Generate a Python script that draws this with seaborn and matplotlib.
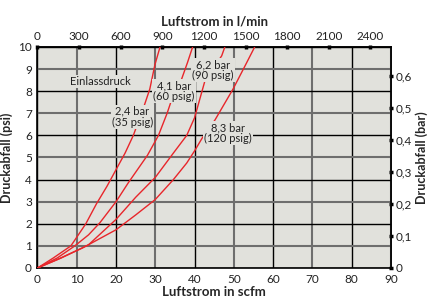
import numpy as np
import pandas as pd
import matplotlib
matplotlib.use("Agg")
import matplotlib.pyplot as plt
import seaborn as sns

# Luftstrom (scfm) / Druckabfall (psi) je Einlassdruck
x_24 = [0, 4, 8.5, 12.3, 15, 17.7, 20, 22.3, 24.4, 26.9, 28.6, 29.9, 31.2]
y_24 = [0, 0.45, 1.0, 2.0, 2.9, 3.7, 4.45, 5.2, 6.0, 7.2, 8.1, 9.2, 10]

x_41 = [0, 5, 9.5, 13, 15.9, 20, 23.1, 28, 30.8, 33, 34.7, 36.6, 38.2, 39.5]
y_41 = [0, 0.45, 1.0, 1.5, 2.05, 3.0, 3.85, 5.1, 6.0, 7.0, 7.9, 8.5, 9.3, 10]

x_62 = [0, 6, 13, 20, 25, 30, 34.6, 38, 40, 42.6, 44.8, 46.9, 47.7]
y_62 = [0, 0.45, 1.05, 2.2, 3.2, 4.1, 5.2, 6.0, 6.8, 8.45, 9.05, 9.6, 10]

x_83 = [0, 5, 11.4, 20, 25, 30, 34.6, 38, 40, 42, 45.2, 49.8, 53, 55.3]
y_83 = [0, 0.38, 0.9, 1.73, 2.4, 3.1, 4.0, 4.75, 5.3, 5.9, 6.7, 8.1, 9.2, 10]

series = {"2,4 bar": (x_24, y_24), "4,1 bar": (x_41, y_41),
          "6,2 bar": (x_62, y_62), "8,3 bar": (x_83, y_83)}

labels = ["Einlassdruck", "2,4 bar\n(35 psig)", "4,1 bar\n(60 psig)",
          "6,2 bar\n(90 psig)", "8,3 bar\n(120 psig)"]
label_x = [15.9, 24.2, 34.7, 44.6, 48.6]
label_y = [8.45, 6.84, 8.0, 8.95, 6.1]

top_ticks = [0, 300, 600, 900, 1200, 1500, 1800, 2100, 2400]
right_ticks = [0, 0.1, 0.2, 0.3, 0.4, 0.5, 0.6]

sns.set_theme(style="white")
plt.rcParams["font.family"] = ["Lato", "DejaVu Sans"]

bg = "#e1e1dc"
red = "#e8262b"

fig = plt.figure(figsize=(4.3, 3.02), dpi=100)
ax = fig.add_axes([0.0872, 0.1126, 0.822, 0.7318])
ax.set_facecolor(bg)

for name, (xs, ys) in series.items():
    df = pd.DataFrame({"scfm": xs, "psi": ys})
    sns.lineplot(data=df, x="scfm", y="psi", ax=ax, color=red, lw=1.0,
                 sort=False, zorder=3)

ax.set_xlim(0, 90)
ax.set_ylim(0, 10)
ax.set_xticks(np.arange(0, 91, 10))
ax.set_yticks(np.arange(0, 11, 1))
ax.grid(True)
for i, t in enumerate(ax.xaxis.get_major_ticks()):
    t.gridline.set_color("#6e6e6e" if i % 2 else "black")
    t.gridline.set_linewidth(1.5 if i % 2 else 1.0)
for i, t in enumerate(ax.yaxis.get_major_ticks()):
    t.gridline.set_color("#6e6e6e" if i % 2 else "black")
    t.gridline.set_linewidth(1.5 if i % 2 else 1.0)
ax.set_axisbelow(True)

ax.tick_params(length=0, labelsize=8.5, pad=4, colors="#222222")
ax.set_xlabel("Luftstrom in scfm", fontsize=9.5, fontweight="bold", labelpad=1)
ax.set_ylabel("Druckabfall (psi)", fontsize=9, fontweight="bold", labelpad=4)
for s in ax.spines.values():
    s.set_color("black")
    s.set_linewidth(1.2)

for txt, lx, ly in zip(labels, label_x, label_y):
    ax.text(lx, ly, txt, ha="center", va="center", fontsize=8,
            color="#222222", linespacing=1.0, zorder=4,
            bbox=dict(boxstyle="square,pad=0.1", fc=bg, ec="none"))

top = ax.secondary_xaxis("top", functions=(lambda v: v * 28.3168,
                                           lambda v: v / 28.3168))
top.set_xticks(top_ticks)
top.tick_params(direction="inout", length=3, width=2.5, labelsize=8.5,
                pad=2, colors="black", labelcolor="#222222")
top.set_xlabel("Luftstrom in l/min", fontsize=9.5, fontweight="bold",
               labelpad=4)

right = ax.secondary_yaxis("right", functions=(lambda v: v / 14.5038,
                                               lambda v: v * 14.5038))
right.set_yticks(right_ticks)
right.set_yticklabels([("%g" % v).replace(".", ",") for v in right_ticks])
right.tick_params(direction="inout", length=3, width=2.5, labelsize=8.5,
                  pad=2, colors="black", labelcolor="#222222")
right.set_ylabel("Druckabfall (bar)", fontsize=9, fontweight="bold",
                 labelpad=2)

fig.savefig("out.png", dpi=100, facecolor="white")
